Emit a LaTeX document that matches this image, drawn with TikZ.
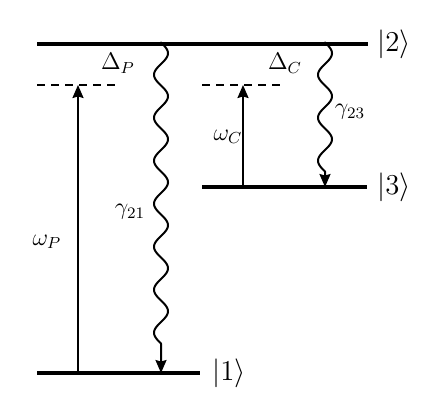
\documentclass[tikz,border=0pt]{standalone}
\usetikzlibrary{arrows.meta}
\begin{document}
\begin{tikzpicture}[x=0.5pt,y=-0.5pt,
  level/.style={line width=1.7pt},
  virtual/.style={line width=1pt,dash pattern=on 4pt off 3pt},
  tip/.style={-{Stealth[length=6.5pt,width=5.5pt,inset=0.8pt]}},
  pump/.style={line width=1pt,tip},
  decay/.style={line width=1pt,tip,line join=round},
  ket/.style={anchor=west,font=\Large,inner sep=0pt},
  lab/.style={font=\large,inner sep=0pt}]
\useasboundingbox (0,0) rectangle (432,413);
% energy levels
\coordinate (l2a) at (37,44);  \coordinate (l2b) at (368,44);
\coordinate (l1a) at (37,373); \coordinate (l1b) at (200,373);
\coordinate (l3a) at (202,187);\coordinate (l3b) at (367,187);
\draw[level] (l2a) -- (l2b);
\draw[level] (l1a) -- (l1b);
\draw[level] (l3a) -- (l3b);
\node[ket] (k2) at (377,44) {$|2\rangle$};
\node[ket] (k1) at (212,373) {$|1\rangle$};
\node[ket] (k3) at (377,187) {$|3\rangle$};
% virtual levels
\coordinate (vpa) at (37,85);  \coordinate (vpb) at (120,85);
\coordinate (vca) at (202,85); \coordinate (vcb) at (283,85);
\draw[virtual] (vpa) -- (vpb);
\draw[virtual] (vca) -- (vcb);
% pump and coupling fields
\coordinate (pb) at (78,373);  \coordinate (pt) at (78,85);
\coordinate (cb) at (243,187); \coordinate (ct) at (243,85);
\draw[pump] (pb) -- (pt);
\draw[pump] (cb) -- (ct);
% spontaneous decay: sine wave (period 43), then a straight run into the lower level
\coordinate (d21a) at (161,43); \coordinate (d21b) at (161,373);
\coordinate (d23a) at (325,43); \coordinate (d23b) at (325,187);
\draw[decay] (d21a) -- plot[domain=42.5:343.5,samples=240,smooth]
  ({161+7*sin(8.3721*(\x-42.5))},\x) -- (d21b);
\draw[decay] (d23a) -- plot[domain=42.5:171.5,samples=120,smooth]
  ({325+7*sin(8.3721*(\x-42.5))},\x) -- (d23b);
% labels
\node[lab] (dp) at (118,63) {$\Delta_P$};
\node[lab] (dc) at (285,63) {$\Delta_C$};
\node[lab] (wp) at (47,242) {$\omega_P$};
\node[lab] (wc) at (228,137) {$\omega_C$};
\node[lab] (g21) at (130,212) {$\gamma_{21}$};
\node[lab] (g23) at (350,112) {$\gamma_{23}$};
\end{tikzpicture}
\end{document}
